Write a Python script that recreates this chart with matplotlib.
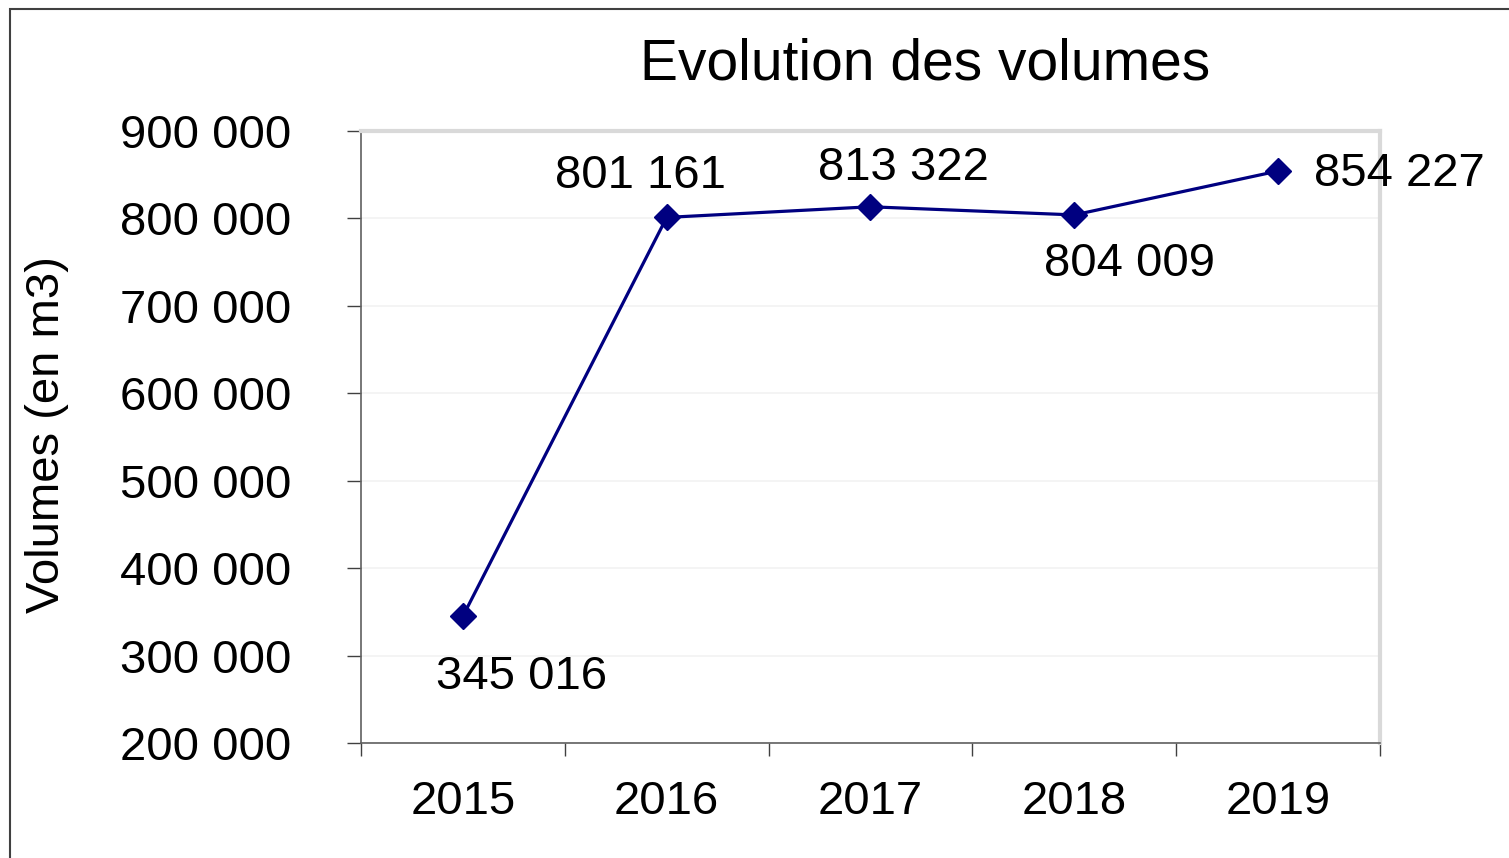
import matplotlib.pyplot as plt
from matplotlib.patches import Rectangle
from matplotlib.ticker import FuncFormatter, FixedLocator

plt.rcParams['font.family'] = ['Liberation Sans', 'DejaVu Sans']

years = ['2015', '2016', '2017', '2018', '2019']
volumes = [345016, 801161, 813322, 804009, 854227]
# label offsets in points (dx, dy) relative to each marker
label_offsets = [(42, -44), (-19, 30), (24, 28), (40, -35), (87, -2)]

W, H = 1509, 858
fig = plt.figure(figsize=(W / 100, H / 100), dpi=100)
ax = fig.add_axes([361 / W, 1 - 743 / H, (1380 - 361) / W, (743 - 131) / H])

x = list(range(len(years)))
ax.plot(x, volumes, color='#000080', lw=2.3, marker='D', markersize=13,
        zorder=3, clip_on=False)

def fmt(v):
    return '{:,}'.format(int(v)).replace(',', ' ')

for xi, v, off in zip(x, volumes, label_offsets):
    ax.annotate(fmt(v), (xi, v), xytext=off, textcoords='offset points',
                ha='center', va='center', fontsize=34, color='black')

ax.set_xlim(-0.5, len(years) - 0.5)
ax.set_ylim(200000, 900000)
ax.set_yticks(range(200000, 900001, 100000))
ax.yaxis.set_major_formatter(FuncFormatter(lambda v, p: fmt(v)))
ax.grid(axis='y', color='#f2f2f2', lw=1.2, zorder=0)

ax.set_xticks(x)
ax.set_xticklabels(years)
ax.xaxis.set_minor_locator(FixedLocator([i - 0.5 for i in range(len(years) + 1)]))
ax.tick_params(axis='x', which='major', length=0, pad=27, labelsize=34)
ax.tick_params(axis='x', which='minor', length=9, width=1, color='#404040',
               direction='out')
ax.tick_params(axis='y', length=10, width=1, color='#404040', pad=40,
               labelsize=34)

for s in ['left', 'bottom']:
    ax.spines[s].set_color('#606060')
    ax.spines[s].set_linewidth(1.2)
for s in ['top', 'right']:
    ax.spines[s].set_color('#d9d9d9')
    ax.spines[s].set_linewidth(3)

fig.text(925 / W, 1 - 64 / H, 'Evolution des volumes', ha='center',
         va='center', fontsize=41)
fig.text(47 / W, 1 - 435 / H, 'Volumes (en m3)', ha='center', va='center',
         rotation=90, fontsize=34)

fig.add_artist(Rectangle((10 / W, -0.1), 1.2, 1 - 9 / H + 0.1,
                         transform=fig.transFigure, fill=False,
                         ec='#404040', lw=1.5))

fig.savefig('out.png', dpi=100)
